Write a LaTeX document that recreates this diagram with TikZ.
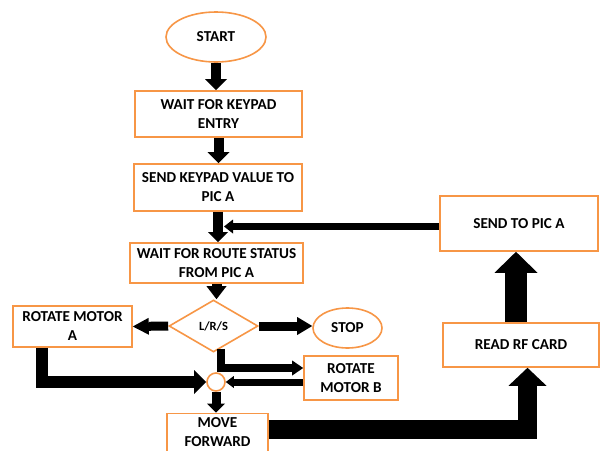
\documentclass[tikz,border=0pt]{standalone}
\usepackage{fontspec}
\setmainfont{Carlito}
\usetikzlibrary{shapes.geometric,arrows.meta}
\definecolor{boxorange}{HTML}{F79646}
\tikzset{
  box/.style={draw=boxorange,line width=1.6pt,fill=white,rectangle,align=center,inner sep=0pt,font=\fontsize{15.2}{19}\selectfont\bfseries},
  oval/.style={box,ellipse},
  blk/.style n args={3}{line width=#1pt,draw=black,-{Triangle[width=#2pt 0 0,length=#3pt 0 0,line width=0pt]}}
}
\begin{document}
\begin{tikzpicture}[x=1pt,y=-1pt]
        \clip (0,0) rectangle (605,450);
        %% Main column
        \node[oval,minimum width=100pt,minimum height=50pt] (start) at (216,37) {START};
        \node[box,minimum width=167pt,minimum height=46pt] (wait) at (218.5,114) {WAIT FOR KEYPAD\\ENTRY};
        \node[box,minimum width=168pt,minimum height=47pt] (send) at (218,187.5) {SEND KEYPAD VALUE TO\\PIC A};
        \node[box,minimum width=173pt,minimum height=40pt] (route) at (216.5,263) {WAIT FOR ROUTE STATUS\\FROM PIC A};
        \node[diamond,draw=boxorange,line width=1.6pt,fill=white,minimum width=89pt,minimum height=52pt,inner sep=0pt,font=\fontsize{12.5}{14}\selectfont\bfseries] (decide) at (213.5,326) {L/R/S};
        \node[box,minimum width=119pt,minimum height=41pt] (motora) at (72.5,326.5) {ROTATE MOTOR\\A};
        \node[oval,minimum width=69pt,minimum height=40pt] (stop) at (347.5,328) {STOP};
        \node[box,minimum width=94pt,minimum height=44pt] (motorb) at (351,378) {ROTATE\\MOTOR B};
        \node[circle,draw=boxorange,line width=1.6pt,fill=white,minimum size=18pt,inner sep=0pt] (join) at (216,382) {};
        \node[box,minimum width=101pt,minimum height=38pt] (move) at (217.5,432.5) {MOVE\\FORWARD};
        %% Right column
        \node[box,minimum width=158pt,minimum height=55pt] (sendpic) at (519,223.5) {SEND TO PIC A};
        \node[box,minimum width=156pt,minimum height=44pt] (rf) at (521,345) {READ RF CARD};
        %% Arrows
        \draw[blk={10}{22}{11}] (start.south) -- (start.south |- wait.north);
        \draw[blk={10}{22}{11}] (wait.south) -- (wait.south |- send.north);
        \draw[blk={10}{20}{10}] (send.south) -- (send.south |- route.north);
        \draw[blk={10}{20}{13}] (route.south) -- (route.south |- decide.north);
        \coordinate (feed) at (224,226.5);
        \draw[blk={7}{14}{9}] (sendpic.west |- feed) -- (feed);
        \draw[blk={9}{17}{16}] (decide.west) -- (motora.east);
        \draw[blk={9}{18}{15}] (decide.east) -- (decide.east -| stop.west);
        \draw[blk={8}{15}{11}] (decide.south) ++(7,-4) |- ([yshift=10pt]motorb.west);
        \draw[blk={7}{12}{8}] (motorb.west |- join.east) -- (join.east);
        \draw[blk={12}{24}{12}] (motora.south west) ++(30,0) |- (join.west);
        \draw[blk={9}{18}{9}] (join.south) -- (join.south |- move.north);
        %% Loop back through the card reader
        \draw[blk={19}{38}{18}] ([yshift=3.5pt]move.east) -| ([xshift=6.5pt]rf.south);
        \draw[blk={22}{43}{21}] ([xshift=-5pt]rf.north) -- ([xshift=-5pt]rf.north |- sendpic.south);
    \end{tikzpicture}
\end{document}
